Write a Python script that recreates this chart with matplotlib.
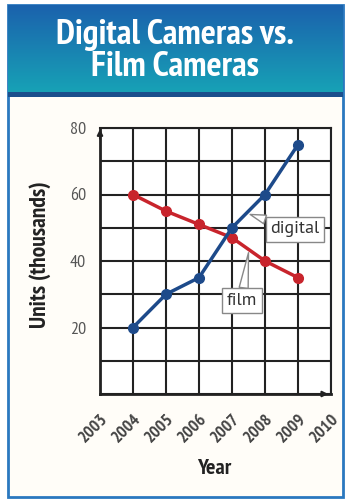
import numpy as np
import matplotlib
matplotlib.use("Agg")
import matplotlib.pyplot as plt
from matplotlib.patches import Rectangle

# datos
years = [2004, 2005, 2006, 2007, 2008, 2009]
digital = [20, 30, 35, 50, 60, 75]
film = [60, 55, 51, 47, 40, 35]
year_ticks = list(range(2003, 2011))
unit_ticks = [20, 40, 60, 80]

narrow = ['PT Sans Narrow', 'DejaVu Sans']
plt.rcParams['font.family'] = narrow

fig = plt.figure(figsize=(3.51, 5.01), dpi=100)
fig.patch.set_facecolor('white')
W, H = 351, 501

# fondo y marco
bg = fig.add_axes([0, 0, 1, 1])
bg.axis('off')
bg.add_patch(Rectangle((8, 5), 335, 492, facecolor='#fffdf8', edgecolor='#2a78bf', lw=2))

# banda del titulo con degradado
grad = np.linspace(0, 1, 100).reshape(-1, 1)
cmap = matplotlib.colors.LinearSegmentedColormap.from_list('t', ['#1b62ad', '#17a2b6'])
bg.imshow(grad, extent=(8, 343, 93, 5), cmap=cmap, aspect='auto', zorder=2)
bg.add_patch(Rectangle((8, 92), 335, 5, facecolor='#1b4f8c', edgecolor='none', zorder=3))
bg.text(175, 51, "Digital Cameras vs.\nFilm Cameras", color='white', fontsize=25.5,
        fontweight='bold', ha='center', va='center', linespacing=0.98, zorder=4)
bg.set_xlim(0, W)
bg.set_ylim(H, 0)

# grafica
ax = fig.add_axes([100 / W, 1 - 394 / H, 231 / W, 266 / H])
ax.set_facecolor('white')
ax.set_xlim(2003, 2010)
ax.set_ylim(0, 80)
ax.set_xticks(year_ticks)
ax.set_xticklabels([str(y) for y in year_ticks], rotation=45, ha='right', va='top',
                   rotation_mode='anchor', fontsize=12.5, fontweight='bold', color='#444444')
ax.set_yticks(unit_ticks)
ax.set_yticklabels([str(v) for v in unit_ticks], fontsize=13, color='#555555')
ax.set_yticks(range(0, 81, 10), minor=True)
ax.grid(True, which='both', color='#222222', lw=1.5)
ax.tick_params(which='both', length=0)
ax.tick_params(axis='y', pad=10)
ax.tick_params(axis='x', pad=12)
for s in ax.spines.values():
    s.set_color('#222222')
    s.set_linewidth(1.5)
ax.spines['left'].set_linewidth(2)
ax.spines['bottom'].set_linewidth(2)
ax.set_axisbelow(True)

ax.plot(years, film, color='#c8242c', lw=2.5, marker='o', ms=7, zorder=3)
ax.plot(years, digital, color='#1d4a8a', lw=2.5, marker='o', ms=7, zorder=4)

# flechas de los ejes
ax.annotate('', xy=(2003, 80.5), xytext=(2003, 76), annotation_clip=False,
            arrowprops=dict(arrowstyle='-|>', color='#222222', lw=1.5, mutation_scale=8))
ax.annotate('', xy=(2010, 0), xytext=(2009.6, 0), annotation_clip=False,
            arrowprops=dict(arrowstyle='-|>', color='#222222', lw=1.5, mutation_scale=8))

# etiquetas tipo globo
box = dict(boxstyle='square,pad=0.25', fc='white', ec='#888888', lw=1)
tail = dict(arrowstyle='wedge,tail_width=0.5', fc='white', ec='#888888', lw=1,
            shrinkA=0, shrinkB=0)
ax.annotate('digital', xy=(2007.55, 54), xytext=(2008.9, 49.5), fontsize=13,
            family=['PT Sans', 'DejaVu Sans'], color='#333333', ha='center', va='center',
            zorder=6, bbox=box, arrowprops=tail)
ax.annotate('film', xy=(2007.5, 42.5), xytext=(2007.3, 28), fontsize=13,
            family=['PT Sans', 'DejaVu Sans'], color='#333333', ha='center', va='center',
            zorder=6, bbox=box, arrowprops=tail)

fig.text(40 / W, 1 - 255 / H, 'Units (thousands)', rotation=90, ha='center', va='center',
         fontsize=17, fontweight='bold', color='#222222')
fig.text(214 / W, 1 - 469 / H, 'Year', ha='center', va='center',
         fontsize=16, fontweight='bold', color='#222222')

fig.savefig('out.png', dpi=100)
